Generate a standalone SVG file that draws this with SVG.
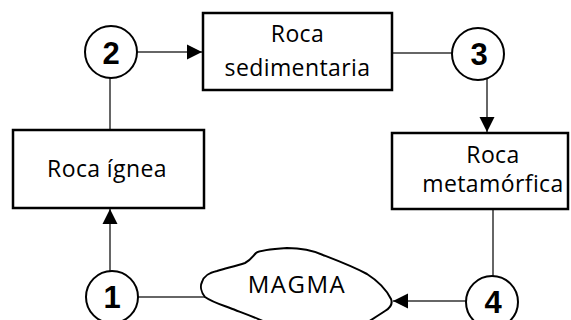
<svg xmlns="http://www.w3.org/2000/svg" width="571" height="320" viewBox="0 0 571 320">
<defs>
<style>
.box{fill:#fff;stroke:#000;stroke-width:2.5}
.circ{fill:#fff;stroke:#000;stroke-width:2}
.ln{fill:none;stroke:#333;stroke-width:1.5}
.t{font-family:"Open Sans","Noto Sans",sans-serif;font-size:23px;fill:#000;text-anchor:middle;letter-spacing:0.4px}
.n{font-family:"Liberation Sans",Arial,sans-serif;font-weight:bold;font-size:31px;fill:#000;text-anchor:middle}
</style>
<marker id="ah" markerUnits="userSpaceOnUse" markerWidth="16" markerHeight="16" viewBox="0 0 16 16" refX="15" refY="8" orient="auto">
<path d="M0,0.5 L15,8 L0,15.5 Z" fill="#000"/>
</marker>
</defs>
<g id="connectors">
<line class="ln" x1="137" y1="52" x2="202" y2="52" marker-end="url(#ah)"/>
<line class="ln" x1="392" y1="53" x2="452" y2="53"/>
<line class="ln" x1="487" y1="79" x2="487" y2="132" marker-end="url(#ah)"/>
<line class="ln" x1="110" y1="130" x2="110" y2="78"/>
<line class="ln" x1="110" y1="271" x2="110" y2="209" marker-end="url(#ah)"/>
<line class="ln" x1="138" y1="297" x2="205" y2="297"/>
<line class="ln" x1="493" y1="209" x2="493" y2="276"/>
<line class="ln" x1="466" y1="301" x2="393" y2="301" marker-end="url(#ah)"/>
</g>
<g id="node-sedimentaria">
<rect class="box" x="203" y="13" width="189" height="77"/>
<text class="t" x="297.5" y="42">Roca</text>
<text class="t" x="297.5" y="76">sedimentaria</text>
</g>
<g id="node-ignea">
<rect class="box" x="13" y="130" width="191" height="78"/>
<text class="t" x="107" y="177">Roca ígnea</text>
</g>
<g id="node-metamorfica">
<rect class="box" x="392" y="133" width="176" height="76"/>
<text class="t" x="493" y="163">Roca</text>
<text class="t" x="493" y="192">metamórfica</text>
</g>
<g id="node-magma">
<path d="M205,297 C201,292 200,286 202,282 C204,276 208,273 217,271 C227,268 236,266 245,263 C251,260 253,256 256,253 C260,250 272,249 287,248 C300,248 312,250 323,255 C336,260 352,266 367,274 C378,281 386,289 391,299 C393,304 390,308 385,311 C379,315 374,318 368,322 L265,322 C252,316 240,312 230,308 C222,305 212,302 205,297 Z" fill="#fff" stroke="#000" stroke-width="2"/>
<text class="t" x="297" y="293" style="font-size:24px;letter-spacing:1.5px">MAGMA</text>
</g>
<g id="node-1">
<circle class="circ" cx="112" cy="297" r="26"/>
<text class="n" x="112" y="308">1</text>
</g>
<g id="node-2">
<circle class="circ" cx="111" cy="52" r="26"/>
<text class="n" x="111" y="64">2</text>
</g>
<g id="node-3">
<circle class="circ" cx="478" cy="54" r="26"/>
<text class="n" x="479" y="65">3</text>
</g>
<g id="node-4">
<circle class="circ" cx="492" cy="302" r="26"/>
<text class="n" x="493" y="313">4</text>
</g>
</svg>
